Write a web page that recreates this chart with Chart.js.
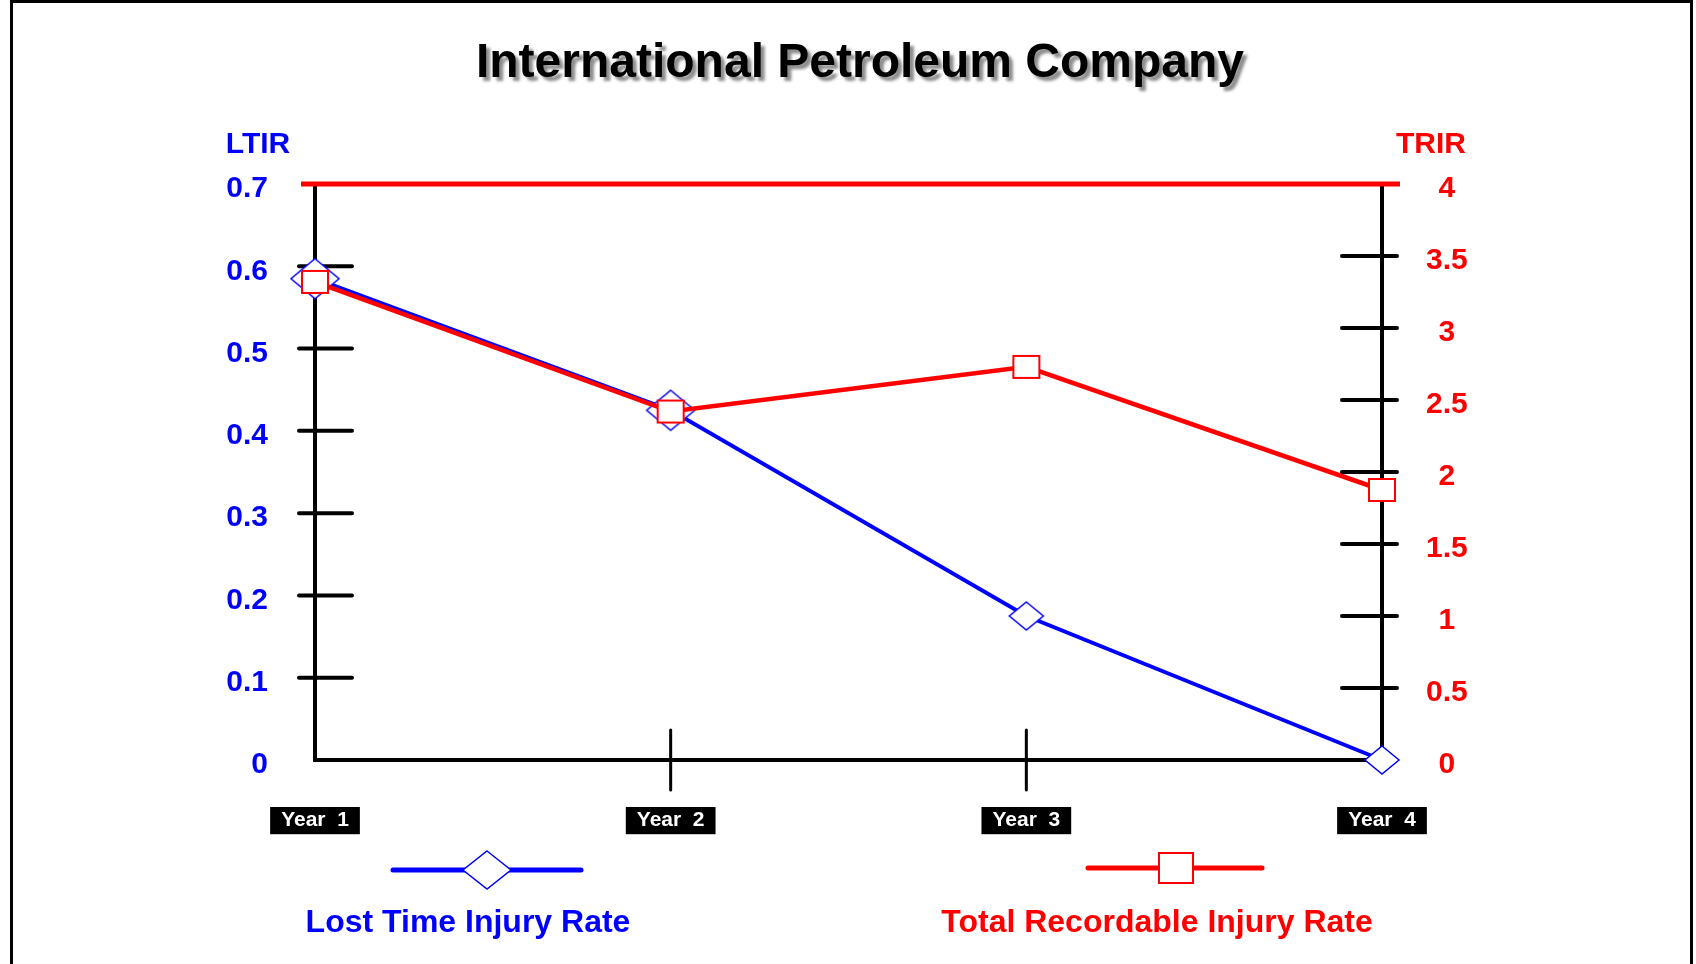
<!DOCTYPE html>
<html>
<head>
<meta charset="utf-8">
<script src="https://cdn.jsdelivr.net/npm/chart.js@4.4.0/dist/chart.umd.min.js"></script>
<style>
  html, body { margin: 0; padding: 0; background: #fff; }
</style>
</head>
<body>
<canvas id="myChart" width="1696" height="964"></canvas>
<script>
// Data
const years = ['Year  1', 'Year  2', 'Year  3', 'Year  4'];
const ltir = [0.585, 0.425, 0.175, 0];
const trir = [3.32, 2.42, 2.73, 1.875];
const ltirTicks = [0, 0.1, 0.2, 0.3, 0.4, 0.5, 0.6, 0.7];
const trirTicks = [0, 0.5, 1, 1.5, 2, 2.5, 3, 3.5, 4];

const BLUE = '#0000ff';
const RED = '#ff0000';
const FONT = '"Liberation Sans", Arial, sans-serif';

// marker images
function diamond(w, h, lw) {
  const c = document.createElement('canvas');
  c.width = w + 4;
  c.height = h + 4;
  const g = c.getContext('2d');
  g.beginPath();
  g.moveTo(c.width / 2, 2);
  g.lineTo(c.width - 2, c.height / 2);
  g.lineTo(c.width / 2, c.height - 2);
  g.lineTo(2, c.height / 2);
  g.closePath();
  g.fillStyle = '#fff';
  g.fill();
  g.strokeStyle = BLUE;
  g.lineWidth = lw;
  g.stroke();
  return c;
}

function square(w, h, lw) {
  const c = document.createElement('canvas');
  c.width = w + 4;
  c.height = h + 4;
  const g = c.getContext('2d');
  g.fillStyle = '#fff';
  g.fillRect(2, 2, w, h);
  g.strokeStyle = RED;
  g.lineWidth = lw;
  g.strokeRect(2, 2, w, h);
  return c;
}

const bigDiamond = diamond(48, 40, 1.5);
const smallDiamond = diamond(34, 28, 1.5);
const redSquare = square(26, 22, 2);
const legendDiamond = diamond(48, 38, 1.5);
const legendSquare = square(34, 30, 2);

// extra drawing: frame, title, axis lines, ticks, legend
const decorations = {
  id: 'decorations',
  beforeDatasetsDraw(chart) {
    const ctx = chart.ctx;
    const area = chart.chartArea;
    const yl = chart.scales.yLeft;
    const yr = chart.scales.yRight;
    const x = chart.scales.x;

    ctx.save();
    ctx.lineCap = 'round';
    ctx.strokeStyle = '#000';

    // axis lines
    ctx.lineWidth = 4;
    ctx.beginPath();
    ctx.moveTo(area.left, area.top);
    ctx.lineTo(area.left, area.bottom);
    ctx.lineTo(area.right, area.bottom);
    ctx.moveTo(area.right, area.top);
    ctx.lineTo(area.right, area.bottom);
    ctx.stroke();

    // left ticks
    ctx.beginPath();
    yl.ticks.forEach(t => {
      if (t.value <= 0 || t.value >= 0.7) return;
      const py = yl.getPixelForValue(t.value);
      ctx.moveTo(area.left - 16, py);
      ctx.lineTo(area.left + 37, py);
    });
    // right ticks
    yr.ticks.forEach(t => {
      if (t.value <= 0 || t.value >= 4) return;
      const py = yr.getPixelForValue(t.value);
      ctx.moveTo(area.right - 40, py);
      ctx.lineTo(area.right + 15, py);
    });
    ctx.stroke();

    // x ticks for middle years
    ctx.lineWidth = 3;
    ctx.beginPath();
    [1, 2].forEach(i => {
      const px = x.getPixelForValue(i);
      ctx.moveTo(px, area.bottom - 30);
      ctx.lineTo(px, area.bottom + 30);
    });
    ctx.stroke();

    // red top line
    ctx.strokeStyle = RED;
    ctx.lineWidth = 5;
    ctx.lineCap = 'butt';
    ctx.beginPath();
    ctx.moveTo(area.left - 14, area.top);
    ctx.lineTo(area.right + 18, area.top);
    ctx.stroke();
    ctx.restore();
  },
  afterDraw(chart) {
    const ctx = chart.ctx;
    ctx.save();

    // frame
    ctx.strokeStyle = '#000';
    ctx.lineWidth = 3;
    ctx.strokeRect(11.5, 1.5, 1680, 1000);

    // title with shadow
    ctx.font = 'bold 48px ' + FONT;
    ctx.textAlign = 'center';
    ctx.textBaseline = 'alphabetic';
    ctx.shadowColor = 'rgba(0,0,0,0.45)';
    ctx.shadowOffsetX = 4;
    ctx.shadowOffsetY = 4;
    ctx.shadowBlur = 3;
    ctx.fillStyle = '#000';
    ctx.fillText('International Petroleum Company', 860, 77);
    ctx.shadowColor = 'transparent';

    // axis titles
    ctx.font = 'bold 30px ' + FONT;
    ctx.textBaseline = 'middle';
    ctx.fillStyle = BLUE;
    ctx.fillText('LTIR', 258, 145);
    ctx.fillStyle = RED;
    ctx.fillText('TRIR', 1431, 145);

    // legend
    ctx.lineCap = 'round';
    ctx.lineWidth = 5;
    ctx.strokeStyle = BLUE;
    ctx.beginPath();
    ctx.moveTo(393, 870);
    ctx.lineTo(581, 870);
    ctx.stroke();
    ctx.drawImage(legendDiamond, 487 - legendDiamond.width / 2, 870 - legendDiamond.height / 2);

    ctx.strokeStyle = RED;
    ctx.beginPath();
    ctx.moveTo(1088, 868);
    ctx.lineTo(1262, 868);
    ctx.stroke();
    ctx.drawImage(legendSquare, 1176 - legendSquare.width / 2, 868 - legendSquare.height / 2);

    ctx.font = 'bold 32px ' + FONT;
    ctx.fillStyle = BLUE;
    ctx.fillText('Lost Time Injury Rate', 468, 923);
    ctx.fillStyle = RED;
    ctx.fillText('Total Recordable Injury Rate', 1157, 923);

    ctx.restore();
  }
};

const ctx = document.getElementById('myChart');

new Chart(ctx, {
  type: 'line',
  data: {
    labels: years,
    datasets: [{
      label: 'Lost Time Injury Rate',
      data: ltir,
      yAxisID: 'yLeft',
      borderColor: BLUE,
      borderWidth: 4,
      pointStyle: [bigDiamond, bigDiamond, smallDiamond, smallDiamond],
      pointRadius: 20,
      tension: 0,
      clip: false,
      order: 2
    }, {
      label: 'Total Recordable Injury Rate',
      data: trir,
      yAxisID: 'yRight',
      borderColor: RED,
      borderWidth: 4.5,
      pointStyle: redSquare,
      pointRadius: 14,
      tension: 0,
      clip: false,
      order: 1
    }]
  },
  options: {
    responsive: false,
    animation: false,
    events: [],
    layout: {
      padding: { top: 184, bottom: 104, left: 0, right: 0 }
    },
    plugins: {
      legend: { display: false },
      title: { display: false },
      tooltip: { enabled: false }
    },
    scales: {
      x: {
        type: 'category',
        offset: false,
        grid: { display: false, drawTicks: false },
        border: { display: false },
        afterFit: s => { s.height = 100; },
        ticks: {
          autoSkip: false,
          maxRotation: 0,
          padding: 48,
          color: '#fff',
          font: { family: FONT, size: 21, weight: 'bold' },
          showLabelBackdrop: true,
          backdropColor: '#000',
          backdropPadding: { x: 11, y: 1 }
        }
      },
      yLeft: {
        position: 'left',
        min: 0,
        max: 0.7,
        grid: { display: false, drawTicks: false },
        border: { display: false },
        afterFit: s => { s.width = 315; },
        afterBuildTicks: s => { s.ticks = ltirTicks.map(v => ({ value: v })); },
        ticks: {
          padding: 47,
          labelOffset: 5,
          color: BLUE,
          font: { family: FONT, size: 30, weight: 'bold' },
          callback: v => String(+v.toFixed(2))
        }
      },
      yRight: {
        position: 'right',
        min: 0,
        max: 4,
        grid: { display: false, drawTicks: false },
        border: { display: false },
        afterFit: s => { s.width = 314; },
        afterBuildTicks: s => { s.ticks = trirTicks.map(v => ({ value: v })); },
        ticks: {
          padding: 44,
          labelOffset: 5,
          crossAlign: 'center',
          color: RED,
          font: { family: FONT, size: 30, weight: 'bold' },
          callback: v => String(+v.toFixed(2))
        }
      }
    }
  },
  plugins: [decorations]
});
</script>
</body>
</html>
